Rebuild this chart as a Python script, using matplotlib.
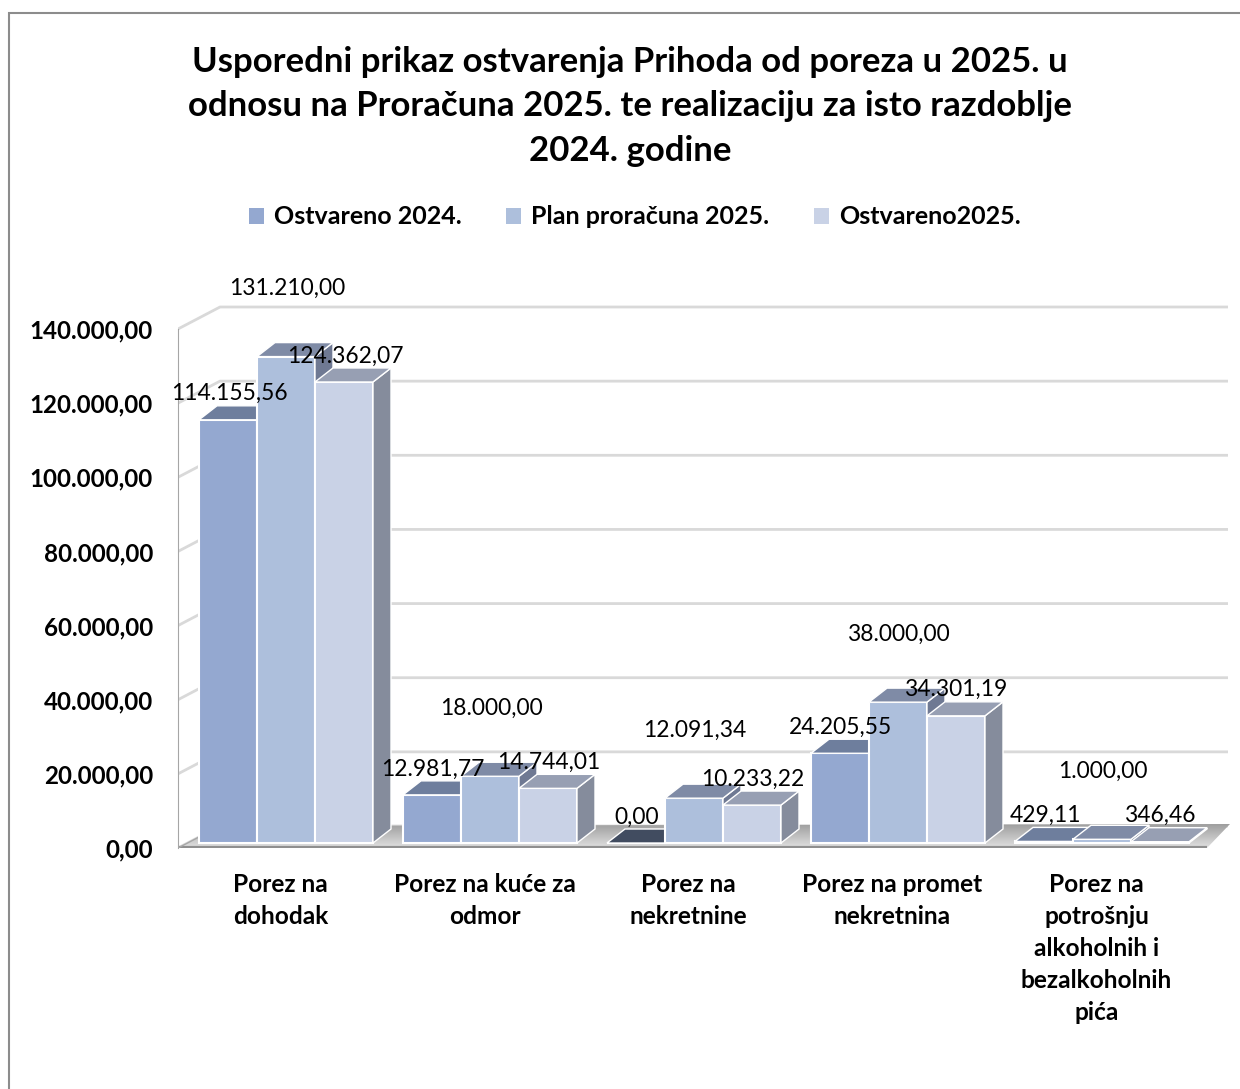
import numpy as np
import matplotlib
matplotlib.use("Agg")
import matplotlib.pyplot as plt
from matplotlib.patches import Polygon, Patch, Rectangle

plt.rcParams["font.family"] = ["Lato", "DejaVu Sans"]

# ---------------------------------------------------------------
# Data
# ---------------------------------------------------------------
categories = [
    "Porez na\ndohodak",
    "Porez na kuće za\nodmor",
    "Porez na\nnekretnine",
    "Porez na promet\nnekretnina",
    "Porez na\npotrošnju\nalkoholnih i\nbezalkoholnih\npića",
]
series_names = ["Ostvareno 2024.", "Plan proračuna 2025.", "Ostvareno2025."]
ostvareno_2024 = [114155.56, 12981.77, 0.00, 24205.55, 429.11]
plan_2025 = [131210.00, 18000.00, 12091.34, 38000.00, 1000.00]
ostvareno_2025 = [124362.07, 14744.01, 10233.22, 34301.19, 346.46]
y_ticks = [0, 20000, 40000, 60000, 80000, 100000, 120000, 140000]

series = [ostvareno_2024, plan_2025, ostvareno_2025]

title = ("Usporedni prikaz ostvarenja Prihoda od poreza u 2025. u\n"
         "odnosu na Proračuna 2025. te realizaciju za isto razdoblje\n"
         "2024. godine")

# ---------------------------------------------------------------
# Styles
# ---------------------------------------------------------------
front_colors = ["#94a8d0", "#adbfdc", "#c9d2e6"]
top_colors = ["#6e7e9d", "#7f8ba6", "#979fb3"]
side_colors = ["#5f6d88", "#6f7993", "#858c9c"]
label_offsets = [26, 68, 26]          # px above bar top

W, H = 1240, 1089
PX_Y = 519 / 140000                   # pixels per value unit
PX_X = 204                            # pixels per category
AX_L, AX_R, AX_B, AX_T = 178, 1240, 848, 290
XMIN = -(286 - AX_L) / PX_X


def px_x(p):
    return p / PX_X


def px_y(p):
    return p / PX_Y


def fmt_hr(v):
    s = f"{v:,.2f}"
    return s.replace(",", "X").replace(".", ",").replace("X", ".")


fig = plt.figure(figsize=(W / 100, H / 100), dpi=100)
ax = fig.add_axes([AX_L / W, (H - AX_B) / H, (AX_R - AX_L) / W, (AX_B - AX_T) / H])
ax.patch.set_alpha(0)

xlim = (XMIN, XMIN + px_x(AX_R - AX_L))
ylim = (0, px_y(AX_B - AX_T))

# back wall gridlines
wall_dx, wall_dy = px_x(42), px_y(22)
x_wall_right = XMIN + px_x(1228 - AX_L)
for v in y_ticks:
    ax.plot([XMIN, XMIN + wall_dx, x_wall_right], [v, v + wall_dy, v + wall_dy],
            color="#d9d9d9", lw=2, zorder=1, solid_capstyle="butt")

# floor
floor_front_r = XMIN + px_x(1207 - AX_L)
floor_back_r = XMIN + px_x(1230 - AX_L)
floor_pts = [(XMIN, 0), (floor_front_r, 0), (floor_back_r, px_y(24)),
             (XMIN + wall_dx, wall_dy)]
floor = Polygon(floor_pts, closed=True, facecolor="none", edgecolor="none", zorder=2)
ax.add_patch(floor)
grad = np.linspace(0.62, 0.88, 64).reshape(-1, 1)
img = ax.imshow(grad, cmap="gray", vmin=0, vmax=1, aspect="auto",
                extent=(XMIN, floor_back_r, 0, px_y(24)), origin="upper", zorder=2)
img.set_clip_path(floor)
ax.plot([XMIN, floor_front_r], [0, 0], color="#8f8f8f", lw=3, zorder=2,
        solid_capstyle="butt")
ax.plot([XMIN, XMIN + wall_dx], [0, wall_dy], color="#a6a6a6", lw=1, zorder=2)

# bars with pseudo 3D faces
bar_w = px_x(58)
base = px_y(5)
dx, dy = px_x(18), px_y(14)
z = 3
for i in range(len(categories)):
    for k, vals in enumerate(series):
        xc = i + (k - 1) * bar_w
        v = vals[i]
        x0, x1 = xc - bar_w / 2, xc + bar_w / 2
        top = base + v
        # empty bars show only a dark lid
        lid = "#414c60" if v == 0 else top_colors[k]
        ax.bar(xc, v, width=bar_w, bottom=base, color=front_colors[k],
               edgecolor="white", lw=1.5, zorder=z)
        ax.add_patch(Polygon([(x1, base), (x1 + dx, base + dy), (x1 + dx, top + dy), (x1, top)],
                             closed=True, facecolor=side_colors[k], edgecolor="white",
                             lw=1, zorder=z))
        ax.add_patch(Polygon([(x0, top), (x1, top), (x1 + dx, top + dy), (x0 + dx, top + dy)],
                             closed=True, facecolor=lid, edgecolor="white",
                             lw=1, zorder=z))
        z += 1
        ax.annotate(fmt_hr(v), xy=(xc + px_x(1), top), xytext=(0, label_offsets[k] * 0.72),
                    textcoords="offset points", ha="center", va="center",
                    fontsize=16.4, color="black", zorder=50)

ax.set_xlim(*xlim)
ax.set_ylim(*ylim)

ax.set_yticks(y_ticks)
ax.set_yticklabels([fmt_hr(v) for v in y_ticks], fontsize=17.4, fontweight="bold")
ax.set_xticks([i - px_x(5.5) for i in range(len(categories))])
ax.set_xticklabels(categories, fontsize=17.6, fontweight="bold", linespacing=1.48, va="top")
ax.tick_params(axis="y", length=0, pad=18)
ax.tick_params(axis="x", length=0, pad=18)
for s in ["top", "right", "bottom"]:
    ax.spines[s].set_visible(False)
ax.spines["left"].set_color("#a6a6a6")
ax.spines["left"].set_bounds(0, 140000)
ax.spines["left"].set_zorder(2)

fig.text(0.508, 1 - 46 / H, title, ha="center", va="top", fontsize=25,
         fontweight="bold", linespacing=1.48)

handles = [Patch(facecolor=c, edgecolor="none") for c in front_colors]
fig.legend(handles, series_names, loc="center", bbox_to_anchor=(0.512, 1 - 217 / H),
           ncol=3, frameon=False, prop={"size": 18, "weight": "bold"},
           handlelength=0.6, handleheight=0.6, handletextpad=0.4, columnspacing=1.8)

fig.patches.append(Rectangle((9 / W, -0.1), 1.2, 1.1 - 13 / H, transform=fig.transFigure,
                             fill=False, edgecolor="#8c8c8c", lw=1.5))

fig.savefig("out.png", dpi=100)
